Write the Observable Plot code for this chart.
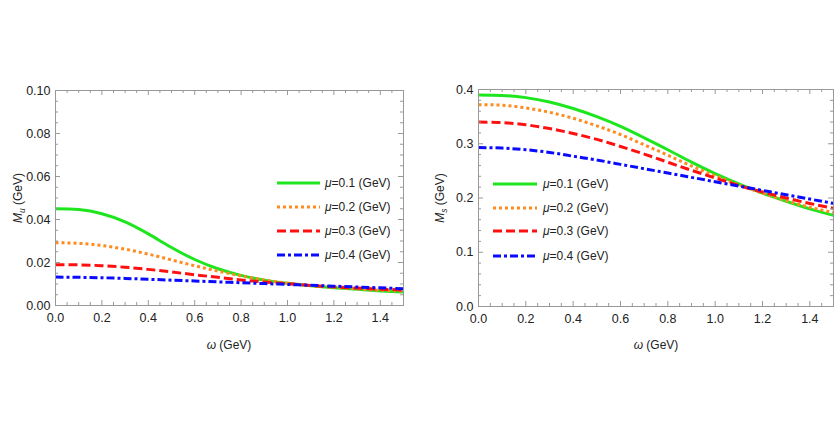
<!DOCTYPE html>
<html>
<head>
<meta charset="utf-8">
<script src="https://cdn.jsdelivr.net/npm/d3@7"></script>
<script src="https://cdn.jsdelivr.net/npm/@observablehq/plot@0.6"></script>
<style>
  html, body { margin: 0; padding: 0; background: #fff; }
  #wrap { position: relative; width: 834px; height: 436px; overflow: hidden; background: #fff; }
  #wrap > div.panel { position: absolute; top: 0; }
  #overlay { position: absolute; left: 0; top: 0; pointer-events: none; }
</style>
</head>
<body>
<div id="wrap">
  <div class="panel" id="left" style="left:0px"></div>
  <div class="panel" id="right" style="left:420px"></div>
</div>
<script>
// ---------- data ----------
const omega = [0.0, 0.1, 0.2, 0.3, 0.4, 0.5, 0.6, 0.7, 0.8, 0.9, 1.0, 1.1, 1.2, 1.3, 1.4, 1.5];
const muLabels = ["0.1", "0.2", "0.3", "0.4"];

// M_u (GeV), left panel
const Mu_mu01 = [0.0450, 0.0446, 0.0427, 0.0389, 0.0333, 0.0270, 0.0214, 0.0171, 0.0140, 0.0118, 0.0103, 0.0092, 0.0083, 0.0075, 0.0068, 0.0063];
const Mu_mu02 = [0.0292, 0.0289, 0.0279, 0.0262, 0.0239, 0.0212, 0.0185, 0.0160, 0.0138, 0.0119, 0.0104, 0.0093, 0.0084, 0.0077, 0.0071, 0.0067];
const Mu_mu03 = [0.0190, 0.0189, 0.0185, 0.0178, 0.0168, 0.0156, 0.0143, 0.0131, 0.0119, 0.0109, 0.0101, 0.0093, 0.0087, 0.0081, 0.0076, 0.0072];
const Mu_mu04 = [0.0132, 0.0131, 0.0129, 0.0126, 0.0122, 0.0118, 0.0114, 0.0110, 0.0106, 0.0102, 0.0098, 0.0094, 0.0090, 0.0086, 0.0082, 0.0078];

// M_s (GeV), right panel
const Ms_mu01 = [0.390, 0.389, 0.385, 0.377, 0.365, 0.350, 0.332, 0.311, 0.289, 0.266, 0.245, 0.226, 0.209, 0.194, 0.180, 0.168];
const Ms_mu02 = [0.372, 0.371, 0.366, 0.358, 0.347, 0.333, 0.317, 0.298, 0.279, 0.259, 0.241, 0.224, 0.209, 0.195, 0.183, 0.173];
const Ms_mu03 = [0.340, 0.339, 0.335, 0.328, 0.319, 0.308, 0.295, 0.281, 0.266, 0.251, 0.237, 0.223, 0.211, 0.200, 0.190, 0.181];
const Ms_mu04 = [0.293, 0.292, 0.289, 0.284, 0.277, 0.270, 0.262, 0.254, 0.246, 0.238, 0.230, 0.222, 0.214, 0.206, 0.198, 0.190];

// ticks
const xMajor = [0.0, 0.2, 0.4, 0.6, 0.8, 1.0, 1.2, 1.4];
const yMajorU = [0.00, 0.02, 0.04, 0.06, 0.08, 0.10];
const yMajorS = [0.0, 0.1, 0.2, 0.3, 0.4];

// ---------- styles ----------
const seriesStyle = [
  {stroke: "#1ee61e", dash: null},
  {stroke: "#ff8a1e", dash: "3,3"},
  {stroke: "#ff1010", dash: "9,4"},
  {stroke: "#0a0aff", dash: "8,3,3,3"}
];
const FRAME = "#999999";
const FONT = "'Liberation Sans', Arial, sans-serif";

function minorTicks(step, lo, hi, majors) {
  return d3.range(lo, hi + step / 2, step)
    .map(v => +v.toFixed(6))
    .filter(v => !majors.some(m => Math.abs(m - v) < 1e-9));
}

function makePanel(cfg) {
  const plotW = cfg.width - cfg.marginLeft - cfg.marginRight;
  const plotH = cfg.height - cfg.marginTop - cfg.marginBottom;
  const marks = [];
  cfg.series.forEach((vals, i) => {
    const data = omega.map((w, j) => ({w, v: vals[j]}));
    const st = seriesStyle[i];
    marks.push(Plot.line(data, {
      x: "w", y: "v", stroke: st.stroke, strokeWidth: 3,
      strokeDasharray: st.dash || undefined,
      strokeLinecap: "butt",
      curve: "natural", clip: true
    }));
  });
  const xMinor = minorTicks(0.05, 0, 1.5, xMajor);
  const yMinor = minorTicks(cfg.yMinorStep, 0, cfg.yMax, cfg.yMajor);
  const MAJ = 5, MIN = 3;
  marks.push(Plot.tickX(xMajor, {x: d => d, stroke: FRAME, insetTop: plotH - MAJ}));
  marks.push(Plot.tickX(xMinor, {x: d => d, stroke: FRAME, insetTop: plotH - MIN}));
  marks.push(Plot.tickX(xMajor, {x: d => d, stroke: FRAME, insetBottom: plotH - MAJ}));
  marks.push(Plot.tickX(xMinor, {x: d => d, stroke: FRAME, insetBottom: plotH - MIN}));
  marks.push(Plot.tickY(cfg.yMajor, {y: d => d, stroke: FRAME, insetRight: plotW - MAJ}));
  marks.push(Plot.tickY(yMinor, {y: d => d, stroke: FRAME, insetRight: plotW - MIN}));
  marks.push(Plot.tickY(cfg.yMajor, {y: d => d, stroke: FRAME, insetLeft: plotW - MAJ}));
  marks.push(Plot.tickY(yMinor, {y: d => d, stroke: FRAME, insetLeft: plotW - MIN}));
  marks.push(Plot.frame({stroke: FRAME, strokeWidth: 1}));
  marks.push(Plot.axisX({ticks: xMajor, tickSize: 0, tickPadding: 8, tickFormat: d => d.toFixed(1), label: null, fill: "#222"}));
  marks.push(Plot.axisY({ticks: cfg.yMajor, tickSize: 0, tickPadding: 5, tickFormat: d => d.toFixed(cfg.yDigits), label: null, fill: "#222"}));
  return Plot.plot({
    width: cfg.width, height: cfg.height,
    marginLeft: cfg.marginLeft, marginRight: cfg.marginRight,
    marginTop: cfg.marginTop, marginBottom: cfg.marginBottom,
    x: {domain: [0, 1.5]},
    y: {domain: [0, cfg.yMax]},
    style: {fontSize: "12.5px", fontFamily: FONT, background: "transparent", overflow: "visible"},
    marks
  });
}

document.getElementById("left").appendChild(makePanel({
  width: 417, height: 436, marginLeft: 55, marginRight: 14, marginTop: 90, marginBottom: 131,
  yMax: 0.1, yMajor: yMajorU, yMinorStep: 0.005, yDigits: 2,
  series: [Mu_mu01, Mu_mu02, Mu_mu03, Mu_mu04]
}));
document.getElementById("right").appendChild(makePanel({
  width: 414, height: 436, marginLeft: 58, marginRight: 1, marginTop: 89, marginBottom: 130,
  yMax: 0.4, yMajor: yMajorS, yMinorStep: 0.02, yDigits: 1,
  series: [Ms_mu01, Ms_mu02, Ms_mu03, Ms_mu04]
}));

// ---------- overlay: axis titles + legends ----------
const svg = d3.select("#wrap").append("svg").attr("id", "overlay")
  .attr("width", 834).attr("height", 436)
  .style("font-family", FONT).style("font-size", "12px");

function xTitle(cx, cy) {
  const t = svg.append("text").attr("x", cx).attr("y", cy).attr("text-anchor", "middle").attr("fill", "#222");
  t.append("tspan").attr("font-style", "italic").text("ω");
  t.append("tspan").text(" (GeV)");
}
function yTitle(cx, cy, sub) {
  const t = svg.append("text").attr("transform", `translate(${cx},${cy}) rotate(-90)`)
    .attr("text-anchor", "middle").attr("fill", "#222");
  t.append("tspan").attr("font-style", "italic").text("M");
  t.append("tspan").attr("font-style", "italic").attr("font-size", "8.5px").attr("dy", 3).text(sub);
  t.append("tspan").attr("dy", -3).text(" (GeV)");
}
xTitle(229, 349);
xTitle(656, 349);
yTitle(22, 198, "u");
yTitle(444, 198, "s");

function legend(x0, x1, tx, rows) {
  rows.forEach((cy, i) => {
    const st = seriesStyle[i];
    svg.append("line").attr("x1", x0).attr("x2", x1).attr("y1", cy).attr("y2", cy)
      .attr("stroke", st.stroke).attr("stroke-width", 3)
      .attr("stroke-dasharray", st.dash);
    const t = svg.append("text").attr("x", tx).attr("y", cy + 4).attr("fill", "#222");
    t.append("tspan").attr("font-style", "italic").text("μ");
    t.append("tspan").text("=" + muLabels[i] + " (GeV)");
  });
}
legend(277, 320, 325, [183, 207, 231, 255]);
legend(493, 537, 543, [184, 208, 231, 256]);
</script>
</body>
</html>
